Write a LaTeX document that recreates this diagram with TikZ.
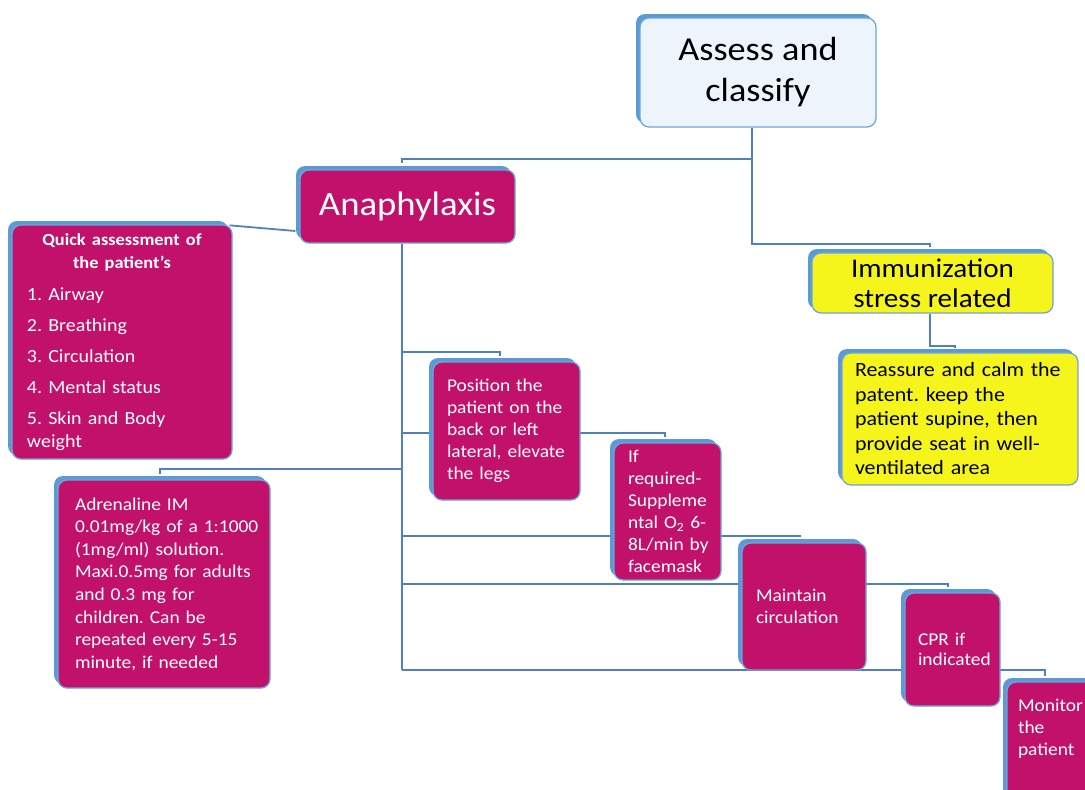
\documentclass[tikz,border=0pt]{standalone}
\usepackage{fontspec}
\setmainfont{Carlito}[FakeStretch=1.08]
\usetikzlibrary{shadows}
\definecolor{mag}{HTML}{C2116B}
\definecolor{ylw}{HTML}{F5F51C}
\definecolor{lblue}{HTML}{EEF4FB}
\definecolor{bord}{HTML}{6FA5DA}
\definecolor{shad}{HTML}{5B9BD5}
\definecolor{lin}{HTML}{4F81BD}
\pgfdeclarelayer{bg}
\pgfsetlayers{bg,main}
\frenchspacing
\newcommand{\nobrk}{\rightskip=0pt minus 40pt\relax}
\begin{document}
\begin{tikzpicture}[x=1pt,y=-1pt,
  box/.style={rounded corners=9pt, draw=bord, line width=1.3pt,
    general shadow={fill=shad, shadow xshift=-4pt, shadow yshift=4pt}},
  magbox/.style={box, fill=mag, text=white, align=left,
    font=\fontsize{18}{22}\selectfont},
  ylwbox/.style={box, fill=ylw, text=black},
  conn/.style={draw=lin, line width=1.8pt}
]
\useasboundingbox (0,0) rectangle (1085,790);
\clip (0,0) rectangle (1085,790);

% nodes
\node[box, fill=lblue, text=black, align=center, minimum width=236pt, minimum height=109pt,
  font=\fontsize{33.5}{41}\selectfont] (assess) at (758,72.5) {Assess and\\classify};
\node[magbox, align=center, minimum width=215pt, minimum height=73pt,
  font=\fontsize{34}{40}\selectfont] (ana) at (407.5,206.5) {Anaphylaxis};
\node[magbox, minimum width=220pt, minimum height=234pt, inner xsep=15pt, text width=190pt,
  font=\fontsize{18.5}{23}\selectfont] (quick) at (122,342)
  {{\centering\bfseries\fontsize{17}{23}\selectfont Quick assessment of\\the patient’s\par}\vspace{9pt}%
   \nobrk 1. Airway\\[8pt]2. Breathing\\[8pt]3. Circulation\\[8pt]4. Mental status\\[8pt]5. Skin and Body\\weight};
\node[ylwbox, align=center, minimum width=241pt, minimum height=60pt,
  font=\fontsize{27}{30}\selectfont] (immun) at (932.5,283) {Immunization\\stress related};
\node[ylwbox, align=left, minimum width=236pt, minimum height=132pt, inner xsep=13pt, text width=210pt,
  font=\fontsize{20.3}{24.5}\selectfont] (reassure) at (960,419)
  {\nobrk Reassure and calm the\\patent. keep the\\patient supine, then\\provide seat in well-\\ventilated area};
\node[magbox, minimum width=147pt, minimum height=138pt, inner xsep=14pt, text width=119pt] (position) at (506.5,431)
  {\nobrk Position the\\patient on the\\back or left\\lateral, elevate\\the legs};
\node[magbox, minimum width=107pt, minimum height=137pt, inner xsep=14pt, text width=79pt] (ifreq) at (667.5,511.5)
  {\nobrk If\\required-\\Suppleme\\ntal O\textsubscript{2} 6-\\8L/min by\\facemask};
\node[magbox, minimum width=212pt, minimum height=208pt, inner xsep=17pt, text width=178pt,
  font=\fontsize{18}{22.6}\selectfont] (adren) at (164,584)
  {\nobrk Adrenaline IM\\0.01mg/kg of a 1:1000\\(1mg/ml) solution.\\Maxi.0.5mg for adults\\and 0.3 mg for\\children. Can be\\repeated every 5-15\\minute, if needed};
\node[magbox, minimum width=124pt, minimum height=127pt, inner xsep=14pt, text width=96pt] (maint) at (804,606.5)
  {\nobrk Maintain\\circulation};
\node[magbox, minimum width=95pt, minimum height=113pt, inner xsep=13pt, text width=69pt,
  font=\fontsize{18}{20}\selectfont] (cpr) at (952.5,649.5)
  {\nobrk CPR if\\indicated};
\node[magbox, minimum width=100pt, minimum height=130pt, inner xsep=11pt, text width=78pt] (monitor) at (1057,747)
  {\nobrk Monitor\\the\\patient\\[18pt]\mbox{}};

% connectors
\coordinate (b1) at (402,352);
\coordinate (b2) at (402,433);
\coordinate (b3) at (402,469);
\coordinate (b4) at (402,536);
\coordinate (b5) at (402,584);
\coordinate (b6) at (402,670);
\begin{pgfonlayer}{bg}
\draw[conn] ([xshift=-6pt]assess.south) -- ++(0,116) -| ([xshift=-2.5pt,yshift=5pt]immun.north);
\draw[conn] ([xshift=-6pt]assess.south) ++(0,31) -| ([xshift=-5.5pt,yshift=6pt]ana.north);
\draw[conn] ([xshift=-5.5pt]ana.south) -- (b6);
\draw[conn] (b1) -| ([xshift=-6.5pt,yshift=5pt]position.north);
\draw[conn] (b2) -| ([xshift=-2.5pt,yshift=5pt]ifreq.north);
\draw[conn] (b3) -| ([xshift=-4pt,yshift=5pt]adren.north);
\draw[conn] (b4) -| ([xshift=-4pt,yshift=5pt]maint.north);
\draw[conn] (b5) -| ([xshift=-4.5pt,yshift=5pt]cpr.north);
\draw[conn] (b6) -| ([xshift=-12pt,yshift=5pt]monitor.north);
\draw[conn] ([xshift=-3pt,yshift=-1pt]quick.north east) -- ([xshift=-4pt,yshift=-24.5pt]ana.west);
\draw[conn] ([xshift=-2.5pt]immun.south) -- ++(0,32) -| ([xshift=-5pt,yshift=4pt]reassure.north);
\end{pgfonlayer}
\end{tikzpicture}
\end{document}
